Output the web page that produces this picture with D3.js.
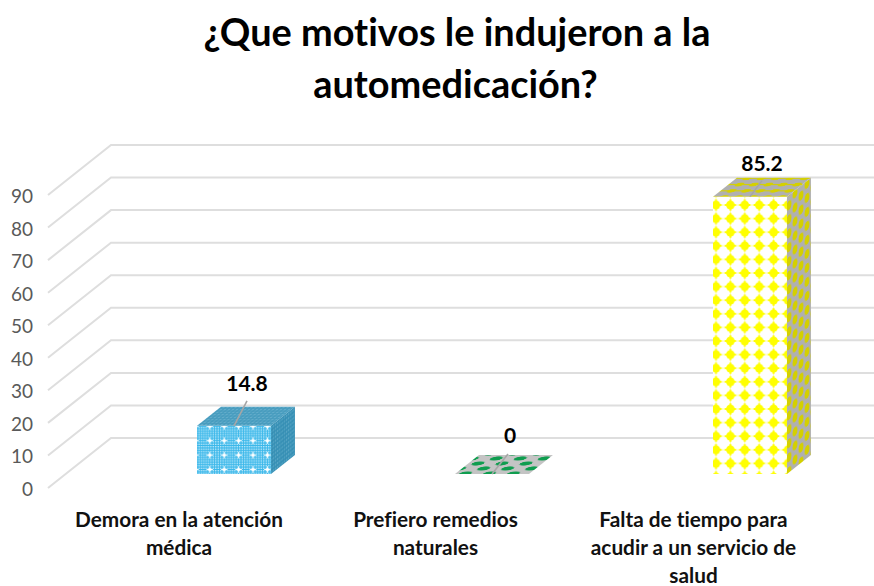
<!DOCTYPE html>
<html>
<head>
<meta charset="utf-8">
<script src="https://cdn.jsdelivr.net/npm/d3@7"></script>
<style>html,body{margin:0;padding:0;background:#fff}svg{display:block}text{font-family:Lato,"Open Sans",sans-serif;font-variant-ligatures:none}</style>
</head>
<body>
<svg id="c" width="874" height="586"></svg>
<script>
const titleLines = ["¿Que motivos le indujeron a la", "automedicación?"];
const categories = ["Demora en la atención médica", "Prefiero remedios naturales", "Falta de tiempo para acudir a un servicio de salud"];
const categoryLines = [["Demora en la atención","médica"],["Prefiero remedios","naturales"],["Falta de tiempo para","acudir a un servicio de","salud"]];
const values = [14.8, 0, 85.2];
const valueLabels = ["14.8", "0", "85.2"];
const ticks = [0,10,20,30,40,50,60,70,80,90];

const svg = d3.select("#c");
const defs = svg.append("defs");

function pat(id, w, h, bg, draw, tf){
  const p = defs.append("pattern").attr("id",id).attr("patternUnits","userSpaceOnUse")
    .attr("width",w).attr("height",h);
  if(tf) p.attr("patternTransform",tf);
  p.append("rect").attr("width",w).attr("height",h).attr("fill",bg);
  draw(p);
}
const dots = (p,pts,r,c)=>pts.forEach(d=>p.append("circle").attr("cx",d[0]).attr("cy",d[1]).attr("r",r).attr("fill",c));
const Y="#ffff00", YD="#d4d000", G="#b0b0b0";
const shearSide="matrix(0.55,-0.44,0,1,0,0)", shearTop="matrix(1,0,-1.26,1,0,0) scale(1,.62)";

pat("yFront",14.4,13.6,"#fff",p=>{
  p.append("path").attr("d","M7.2 0V13.6M0 6.8H14.4").attr("stroke","#ffffa0").attr("stroke-width",1);
  p.append("path").attr("d","M7.2 1.2V12.4M1.6 6.8H12.8").attr("stroke",Y).attr("stroke-width",2);
  dots(p,[[7.2,6.8]],4.3,Y);
},"translate(3.2,7.8)");
pat("ySide",12,14,G,p=>{
  [[3,3.5],[9,10.5],[3,17.5],[9,-3.5]].forEach(d=>p.append("ellipse").attr("cx",d[0]).attr("cy",d[1]).attr("rx",2.5).attr("ry",4.4).attr("fill",YD));
},"matrix(1,-0.8,0,1,0,0)");
pat("yTop",14.4,13.6,G,p=>{
  p.append("path").attr("d","M0 6.8H14.4").attr("stroke",YD).attr("stroke-width",2.4);
  dots(p,[[7.2,6.8]],4,YD);
},"matrix(1,0,-1.26,1,0,0) scale(1,.46)");

pat("bFront",14.4,14.4,"#3bb8ea",p=>{
  const g=d3.range(0,14.4,2.4);
  g.forEach(x=>g.forEach(y=>p.append("circle").attr("cx",x+1.2).attr("cy",y+1.2).attr("r",.75).attr("fill","#d9f3fd")));
  p.append("path").attr("d","M4 7.2H10.4M7.2 4V10.4").attr("stroke","#fff").attr("stroke-width",.9);
  dots(p,[[7.2,7.2]],1.5,"#fff");
},"translate(1,1.5)");
pat("bSide",4,4,"#3a93b8",p=>{
  dots(p,[[1,1]],.8,"#76b7d1");
  dots(p,[[3,3]],.6,"#2c7fa3");
},shearSide);
pat("bTop",4,4,"#4b9fc1",p=>{
  dots(p,[[1,1]],.8,"#7fbdd6");
  dots(p,[[3,3]],.6,"#3a8db0");
},shearTop);

pat("gTop",24,10,"#c4c4c4",p=>{
  [[6,2.5],[18,7.5],[-6,7.5],[30,2.5]].forEach(d=>p.append("ellipse")
    .attr("cx",d[0]).attr("cy",d[1]).attr("rx",6).attr("ry",2.1).attr("fill","#0f9d4f"));
},"matrix(1,0,-1.26,1,0,0) translate(0,1)");

const y = d3.scaleLinear().domain([0,90]).range([488,195]);
const x = d3.scalePoint().domain(categories).range([234,750]);
const depthX=63, depthY=50;
const barFrontDepth=.28, barBackDepth=.66;
const barW=74;
const floorLeft=48, rightEdge=874;

const grid = svg.append("g").attr("fill","none").attr("stroke","#dedede").attr("stroke-width",2);
ticks.forEach(t=>{
  grid.append("path").attr("d",d3.line()([[floorLeft,y(t)],[floorLeft+depthX,y(t)-depthY],[rightEdge,y(t)-depthY]]));
});

svg.append("g").selectAll("text").data(ticks).join("text")
  .attr("x",33).attr("y",d=>y(d)+8).attr("text-anchor","end")
  .attr("font-size",19).attr("fill","#595959").text(d=>d);

const names=[["bFront","bSide","bTop"],[null,null,"gTop"],["yFront","ySide","yTop"]];
const leaderOffset=[[13,-25],[16,-20],[12,-16]];
const labelOffset=[[13,-35],[18,-31],[12,-26]];
const catShift=[-55,-56.5,-56.5];
const bars=svg.append("g");
const labels=svg.append("g");
categories.forEach((c,i)=>{
  const v=values[i], cx=x(c);
  const l=cx-barW/2, r=cx+barW/2;
  const fy=depthY*barFrontDepth;
  const dx=depthX*(barBackDepth-barFrontDepth), dy=depthY*(barBackDepth-barFrontDepth);
  const yb=y(0)-fy, yt=y(v)-fy;
  const poly=(pts,fill)=>bars.append("polygon").attr("points",pts.map(p=>p.join(",")).join(" ")).attr("fill",fill);
  if(v>0){
    poly([[l,yt],[r,yt],[r,yb],[l,yb]],`url(#${names[i][0]})`);
    poly([[r,yt],[r+dx,yt-dy],[r+dx,yb-dy],[r,yb]],`url(#${names[i][1]})`);
  }
  poly([[l,yt],[r,yt],[r+dx,yt-dy],[l+dx,yt-dy]],`url(#${names[i][2]})`);
  const [ox,oy]=leaderOffset[i];
  bars.append("path").attr("d",d3.line()([[cx,yt],[cx+ox,yt+oy]])).attr("stroke","#a6a6a6").attr("stroke-width",1.6).attr("fill","none");
  labels.append("text").attr("x",cx+labelOffset[i][0]).attr("y",yt+labelOffset[i][1]).attr("text-anchor","middle")
    .attr("font-size",21).attr("font-weight",700).attr("fill","#000").text(valueLabels[i]);
  categoryLines[i].forEach((t,j)=>labels.append("text").attr("x",cx+catShift[i]).attr("y",527+j*28)
    .attr("text-anchor","middle").attr("font-size",20.8).attr("font-weight",700).attr("fill","#111").text(t));
});

titleLines.forEach((t,j)=>svg.append("text").attr("x",j?455.5:457).attr("y",46+j*52)
  .attr("text-anchor","middle").attr("font-size",37.9).attr("font-weight",700).attr("fill","#000").text(t));
</script>
</body>
</html>
